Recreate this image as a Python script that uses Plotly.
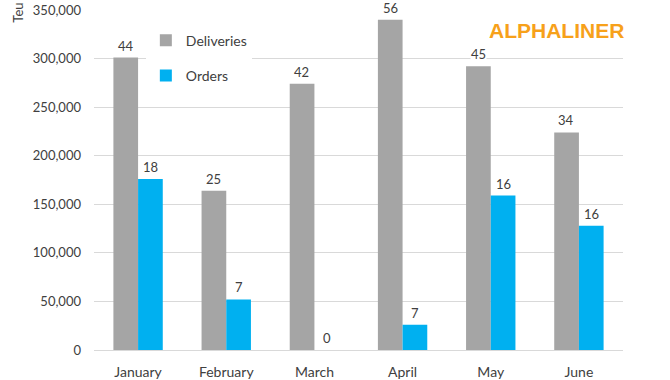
import plotly.graph_objects as go

months = ["January", "February", "March", "April", "May", "June"]
deliveries_teu = [301000, 164000, 274000, 340000, 292000, 224000]
orders_teu = [176000, 52000, 0, 26000, 159000, 128000]
deliveries_ships = [44, 25, 42, 56, 45, 34]
orders_ships = [18, 7, 0, 7, 16, 16]
y_ticks = [0, 50000, 100000, 150000, 200000, 250000, 300000, 350000]

GRAY = "#A5A5A5"
BLUE = "#00B0F0"
TXT = "#404040"
FONT = "Lato"

fig = go.Figure()
fig.add_trace(go.Bar(name="Deliveries", x=months, y=deliveries_teu,
                     marker_color=GRAY, legendgroup="d"))
fig.add_trace(go.Bar(name="Orders", x=months, y=orders_teu,
                     marker_color=BLUE, legendgroup="o"))

annotations = []
for m, v, n in zip(months, deliveries_teu, deliveries_ships):
    annotations.append(dict(x=m, y=v, text=str(n), xref="x", yref="y",
                            showarrow=False, xshift=-12.5, yshift=3,
                            yanchor="bottom", bgcolor="white", borderpad=0,
                            font=dict(family=FONT, size=13, color=TXT)))
for m, v, n in zip(months, orders_teu, orders_ships):
    annotations.append(dict(x=m, y=v, text=str(n), xref="x", yref="y",
                            showarrow=False, xshift=12.5, yshift=3,
                            yanchor="bottom", bgcolor="white", borderpad=0,
                            font=dict(family=FONT, size=13, color=TXT)))

annotations.append(dict(text="Teu", xref="paper", yref="paper",
                        x=-0.144, y=1.027, xanchor="center", yanchor="top",
                        textangle=-90, showarrow=False,
                        font=dict(family=FONT, size=13, color=TXT)))
annotations.append(dict(text="<b>ALPHALINER</b>", xref="paper", yref="paper",
                        x=1.0, y=0.94, xanchor="right", yanchor="middle",
                        xshift=3, showarrow=False, bgcolor="white",
                        font=dict(family="Liberation Sans", size=21, color="#F7A11A")))

fig.update_layout(
    template="none",
    width=670, height=380,
    margin=dict(l=94, r=47, t=10, b=30, autoexpand=False),
    paper_bgcolor="white", plot_bgcolor="white",
    barmode="group", bargap=0.44, bargroupgap=0,
    showlegend=True,
    legend=dict(x=0.098, y=0.957, xanchor="left", yanchor="top",
                bgcolor="white", tracegroupgap=14,
                font=dict(family=FONT, size=14, color=TXT)),
    xaxis=dict(showline=True, linecolor="#D9D9D9", linewidth=1,
               showgrid=False, automargin=False, ticks="",
               ticklabelstandoff=9,
               tickfont=dict(family=FONT, size=14, color=TXT)),
    yaxis=dict(range=[0, 350000], tickvals=y_ticks, automargin=False,
               tickformat=",", showgrid=True, gridcolor="#D9D9D9",
               gridwidth=1, zeroline=False, showline=False, ticks="",
               ticklabelstandoff=12, ticklabeloverflow="allow",
               tickfont=dict(family=FONT, size=13, color=TXT)),
    annotations=annotations,
    font=dict(family=FONT, color=TXT),
)

# remove the default 8px page margin so the figure sits at the window's corner
fig.write_html("out.html", config={"displayModeBar": False},
               post_script="document.body.style.margin='0px';")
